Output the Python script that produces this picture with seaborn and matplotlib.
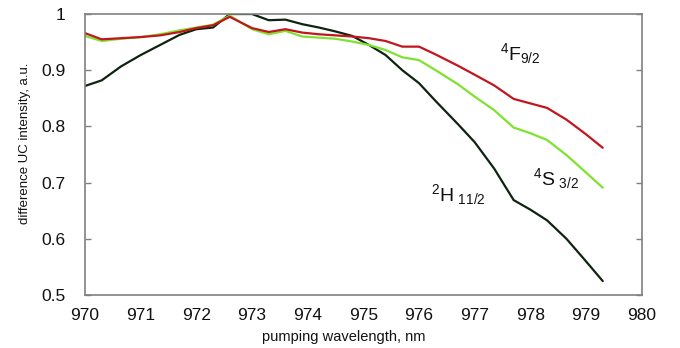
import numpy as np
import pandas as pd
import matplotlib
matplotlib.use("Agg")
import matplotlib.pyplot as plt
import seaborn as sns
from matplotlib.ticker import FixedLocator, FuncFormatter

# Pumping wavelength grid, nm
wavelength = [970.0, 970.3, 970.65, 971.0, 971.35, 971.7, 972.0, 972.3, 972.6,
              973.0, 973.3, 973.6, 973.9, 974.2, 974.5, 974.8, 975.1, 975.4,
              975.7, 976.0, 976.3, 976.7, 977.0, 977.35, 977.7, 978.0, 978.3,
              978.65, 979.0, 979.3]

# Normalised UC intensity for each emission band
f92 = [0.966, 0.955, 0.957, 0.959, 0.962, 0.968, 0.975, 0.980, 0.995,
       0.975, 0.968, 0.973, 0.967, 0.964, 0.962, 0.960, 0.957, 0.952,
       0.942, 0.942, 0.928, 0.908, 0.892, 0.873, 0.849, 0.841, 0.833,
       0.812, 0.786, 0.762]
s32 = [0.961, 0.952, 0.956, 0.959, 0.964, 0.971, 0.976, 0.981, 0.997,
       0.973, 0.964, 0.970, 0.960, 0.958, 0.956, 0.951, 0.945, 0.936,
       0.923, 0.918, 0.900, 0.875, 0.853, 0.829, 0.798, 0.788, 0.776,
       0.749, 0.718, 0.691]
h112 = [0.872, 0.882, 0.907, 0.927, 0.945, 0.963, 0.973, 0.976, 1.000,
        1.000, 0.989, 0.990, 0.982, 0.976, 0.969, 0.961, 0.945, 0.927,
        0.900, 0.877, 0.845, 0.804, 0.772, 0.725, 0.669, 0.652, 0.633,
        0.600, 0.560, 0.525]

bands = ["2H11/2", "4S3/2", "4F9/2"]
band_values = [h112, s32, f92]
band_colors = ["#0e2410", "#7ee22e", "#c2161e"]

xticks = list(range(970, 981))
yticks = [0.5, 0.6, 0.7, 0.8, 0.9, 1.0]

df = pd.DataFrame({
    "wavelength": np.tile(wavelength, len(bands)),
    "intensity": np.concatenate(band_values),
    "band": np.repeat(bands, len(wavelength)),
})

sns.set_style("white")
plt.rcParams["font.family"] = ["Liberation Sans", "DejaVu Sans"]

fig = plt.figure(figsize=(6.8, 3.48), dpi=100)
ax = fig.add_axes([0.125, 0.152, 0.8187, 0.8077])

sns.lineplot(data=df, x="wavelength", y="intensity", hue="band",
             hue_order=bands, palette=dict(zip(bands, band_colors)),
             linewidth=1.6, legend=False, ax=ax, sort=False)

ax.set_xlim(970, 980)
ax.set_ylim(0.5, 1.0)

# labelled ticks at every nanometre, tick marks only at the even ones
ax.xaxis.set_major_locator(FixedLocator(xticks))
ax.xaxis.set_minor_locator(FixedLocator([972, 974, 976, 978]))
ax.yaxis.set_major_locator(FixedLocator(yticks))
ax.yaxis.set_major_formatter(FuncFormatter(lambda v, p: f"{v:g}"))
ax.tick_params(axis="x", which="major", length=0, labelsize=12.5, pad=9,
               colors="#111111")
ax.tick_params(axis="x", which="minor", length=4, width=1, direction="in",
               top=True, bottom=True, color="#808080")
ax.tick_params(axis="y", which="major", length=4, width=1, direction="in",
               left=True, right=True, labelsize=12.5, pad=14,
               color="#808080", labelcolor="#111111")

for side in ["left", "right", "top", "bottom"]:
    ax.spines[side].set_visible(True)
    ax.spines[side].set_color("#808080")
    ax.spines[side].set_linewidth(1.2)

ax.set_xlabel("pumping wavelength, nm", fontsize=10.5, color="#111111")
ax.xaxis.set_label_coords(0.464, -0.125)
ax.set_ylabel("difference UC intensity, a.u.", fontsize=9.5, color="#111111")
ax.yaxis.set_label_coords(-0.097, 0.541)

ax.text(977.45, 0.918, r"$\mathregular{^4F_{9/2}}$", fontsize=14,
        ha="left", va="baseline", color="#111111")
ax.text(978.05, 0.696, r"$\mathregular{^4S_{\ 3/2}}$", fontsize=14,
        ha="left", va="baseline", color="#111111")
ax.text(976.21, 0.668, r"$\mathregular{^2H_{\ 11/2}}$", fontsize=14,
        ha="left", va="baseline", color="#111111")

fig.savefig("out.png", dpi=100)
